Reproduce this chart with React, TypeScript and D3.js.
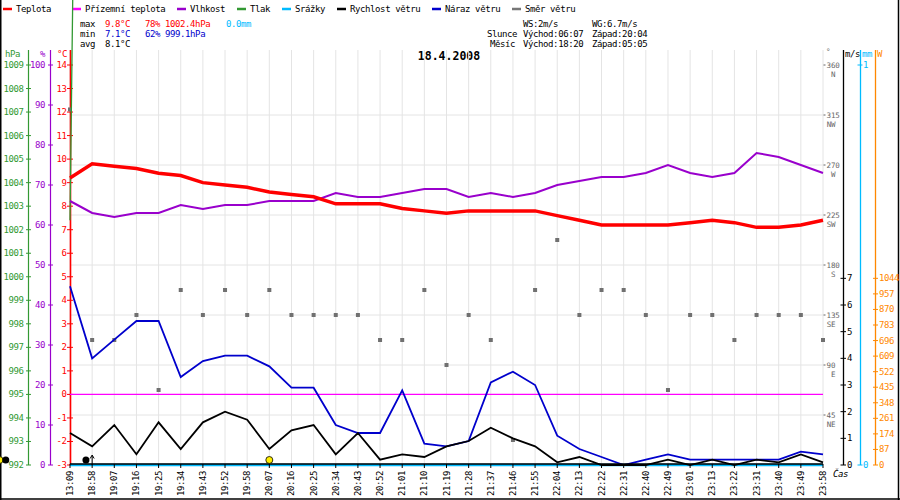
import React from "react";
import * as d3 from "d3";

const times = ["13:09","18:58","19:07","19:16","19:25","19:34","19:43","19:52","19:58","20:07","20:16","20:25","20:34","20:43","20:52","21:01","21:10","21:19","21:28","21:37","21:46","21:55","22:04","22:13","22:22","22:31","22:40","22:49","23:01","23:13","23:22","23:31","23:40","23:49","23:58"];
const temperature = [9.2,9.8,9.7,9.6,9.4,9.3,9.0,8.9,8.8,8.6,8.5,8.4,8.1,8.1,8.1,7.9,7.8,7.7,7.8,7.8,7.8,7.8,7.6,7.4,7.2,7.2,7.2,7.2,7.3,7.4,7.3,7.1,7.1,7.2,7.4];
const feelsLike = [0,0,0,0,0,0,0,0,0,0,0,0,0,0,0,0,0,0,0,0,0,0,0,0,0,0,0,0,0,0,0,0,0,0,0];
const humidity = [66,63,62,63,63,65,64,65,65,66,66,66,68,67,67,68,69,69,67,68,67,68,70,71,72,72,73,75,73,72,73,78,77,75,73];
const pressure = [1002.4,1079,1079,1079,1079,1079,1079,1079,1079,1079,1079,1079,1079,1079,1079,1079,1079,1079,1079,1079,1079,1079,1079,1079,1079,1079,1079,1079,1079,1079,1079,1079,1079,1079,1079];
const precipitation = [0,0,0,0,0,0,0,0,0,0,0,0,0,0,0,0,0,0,0,0,0,0,0,0,0,0,0,0,0,0,0,0,0,0,0];
const windSpeed = [1.2,0.7,1.5,0.4,1.6,0.6,1.6,2.0,1.7,0.6,1.3,1.5,0.4,1.2,0.2,0.4,0.3,0.7,0.9,1.4,1.0,0.7,0.1,0.3,0,0,0,0.2,0,0.2,0,0.2,0.1,0.4,0.1];
const windGust = [6.7,4.0,4.7,5.4,5.4,3.3,3.9,4.1,4.1,3.7,2.9,2.9,1.5,1.2,1.2,2.8,0.8,0.7,0.9,3.1,3.5,3.0,1.1,0.6,0.3,0,0.2,0.4,0.2,0.2,0.2,0.2,0.2,0.5,0.4];
const windDir = [320,112.5,112.5,135,67.5,157.5,135,157.5,135,157.5,135,135,135,135,112.5,112.5,157.5,90,135,112.5,22.5,157.5,202.5,135,157.5,157.5,135,67.5,135,135,112.5,135,135,135,112.5];

const hpaTicks = [992,993,994,995,996,997,998,999,1000,1001,1002,1003,1004,1005,1006,1007,1008,1009];
const humTicks = [0,10,20,30,40,50,60,70,80,90,100];
const tempTicks = [-3,-2,-1,0,1,2,3,4,5,6,7,8,9,10,11,12,13,14];
const dirTicks = [45,90,135,180,225,270,315,360];
const dirNames = ["NE","E","SE","S","SW","W","NW","N"];
const msTicks = [0,1,2,3,4,5,6,7];
const mmTicks = [0,1];
const wTicks = [0,87,174,261,348,435,522,609,696,783,870,957,1044];

const legend = [
  { name: "Teplota", color: "#ff0000", x: 1 },
  { name: "Přízemní teplota", color: "#ff00ff", x: 70 },
  { name: "Vlhkost", color: "#9900cc", x: 175 },
  { name: "Tlak", color: "#339933", x: 235 },
  { name: "Srážky", color: "#00bbff", x: 280 },
  { name: "Rychlost větru", color: "#000000", x: 335 },
  { name: "Náraz větru", color: "#0000cc", x: 430 },
  { name: "Směr větru", color: "#777777", x: 510 },
];

// astronomical markers, positioned by fractional sample index
const markers = [
  { idx: -3.18, type: "sun" },
  { idx: -2.9, type: "moon" },
  { idx: 0.72, type: "moon" },
  { idx: 9, type: "sun" },
];

const C = {
  red: "#ff0000", mag: "#ff00ff", pur: "#9900cc", grn: "#339933", cyan: "#00bbff",
  blk: "#000000", blue: "#0000cc", gray: "#666666", org: "#ff8800", grid: "#e4e4e4",
};

const FONT = "'DejaVu Sans Mono', monospace";

export default function App() {
  const x0 = 70, x1 = 823, yTop = 65, yBot = 465;
  const xi = d3.scaleLinear().domain([0, times.length - 1]).range([x0, x1]);
  const yT = d3.scaleLinear().domain([-3, 14]).range([yBot, yTop]);
  const yH = d3.scaleLinear().domain([0, 100]).range([yBot, yTop]);
  const yP = d3.scaleLinear().domain([992, 1009]).range([yBot, yTop]);
  const yD = d3.scaleLinear().domain([0, 360]).range([yBot, yTop]);
  const yS = d3.scaleLinear().domain([0, 15]).range([yBot, yTop]);
  const yM = d3.scaleLinear().domain([0, 1]).range([yBot, yTop]);
  const yWt = d3.scaleLinear().domain([0, (1044 * 15) / 7]).range([yBot, yTop]);

  const mk = (scale: d3.ScaleLinear<number, number>) =>
    d3.line<number>().x((_, i) => xi(i)).y((d) => scale(d));

  const txt = (props: any, s: string) => (
    <text fontFamily={FONT} fontSize={9} letterSpacing={-0.4} {...props}>{s}</text>
  );
  const small = (props: any, s: string) => (
    <text fontFamily={FONT} fontSize={7.5} letterSpacing={-0.1} {...props}>{s}</text>
  );

  return (
    <svg width={900} height={500} style={{ position: "absolute", left: 0, top: 0, background: "#fff" }}>
      <rect x={0} y={0} width={900} height={500} fill="#fff" />
      {/* frame */}
      <line x1={0.75} y1={0} x2={0.75} y2={500} stroke="#000" strokeWidth={1.5} />
      <line x1={898.5} y1={0} x2={898.5} y2={500} stroke="#000" strokeWidth={1.5} />
      <line x1={0} y1={499} x2={900} y2={499} stroke="#000" strokeWidth={1.5} />

      {/* legend */}
      {legend.map((l) => (
        <g key={l.name}>
          <line x1={l.x + 2} x2={l.x + 11} y1={9} y2={9} stroke={l.color} strokeWidth={2.5} />
          {txt({ x: l.x + 15, y: 12, fill: "#000" }, l.name)}
        </g>
      ))}

      {/* stats */}
      {txt({ x: 80, y: 27 }, "max")}
      {txt({ x: 105, y: 27, fill: C.red }, "9.8°C")}
      {txt({ x: 145, y: 27, fill: C.red }, "78%")}
      {txt({ x: 165, y: 27, fill: C.red }, "1002.4hPa")}
      {txt({ x: 226, y: 27, fill: C.cyan }, "0.0mm")}
      {txt({ x: 80, y: 37 }, "min")}
      {txt({ x: 105, y: 37, fill: C.blue }, "7.1°C")}
      {txt({ x: 145, y: 37, fill: C.blue }, "62%")}
      {txt({ x: 165, y: 37, fill: C.blue }, "999.1hPa")}
      {txt({ x: 80, y: 47 }, "avg")}
      {txt({ x: 105, y: 47 }, "8.1°C")}

      {txt({ x: 523, y: 27 }, "WS:2m/s")}
      {txt({ x: 592, y: 27 }, "WG:6.7m/s")}
      {txt({ x: 487, y: 37 }, "Slunce")}
      {txt({ x: 523, y: 37 }, "Východ:06:07")}
      {txt({ x: 592, y: 37 }, "Západ:20:04")}
      {txt({ x: 490, y: 47 }, "Měsíc")}
      {txt({ x: 523, y: 47 }, "Východ:18:20")}
      {txt({ x: 592, y: 47 }, "Západ:05:05")}

      <text x={449} y={60} textAnchor="middle" fontFamily={FONT} fontWeight="bold" fontSize={11.5}>18.4.2008</text>

      {/* grid */}
      {times.map((t, i) => (
        <line key={"vg" + t} x1={xi(i)} x2={xi(i)} y1={50} y2={yBot} stroke={C.grid} strokeWidth={1} />
      ))}
      {dirTicks.slice(0, 7).map((d) => (
        <line key={"hg" + d} x1={x0} x2={x1} y1={yD(d)} y2={yD(d)} stroke={C.grid} strokeWidth={1} />
      ))}

      {/* left axes */}
      {txt({ x: 5, y: 57, fill: C.grn }, "hPa")}
      {txt({ x: 40, y: 57, fill: C.pur }, "%")}
      {txt({ x: 57, y: 57, fill: C.red }, "°C")}
      <line x1={28.5} x2={28.5} y1={50} y2={yBot} stroke={C.grn} strokeWidth={1.2} />
      {hpaTicks.map((v) => (
        <g key={"p" + v}>
          <line x1={26} x2={31} y1={yP(v)} y2={yP(v)} stroke={C.grn} />
          {txt({ x: 23.5, y: yP(v) + 3, fill: C.grn, textAnchor: "end" }, String(v))}
        </g>
      ))}
      <line x1={50.5} x2={50.5} y1={50} y2={yBot} stroke={C.pur} strokeWidth={1.2} />
      {humTicks.map((v) => (
        <g key={"h" + v}>
          <line x1={48} x2={53} y1={yH(v)} y2={yH(v)} stroke={C.pur} />
          {txt({ x: 45, y: yH(v) + 3, fill: C.pur, textAnchor: "end" }, String(v))}
        </g>
      ))}
      <line x1={70.5} x2={70.5} y1={50} y2={yBot} stroke={C.red} strokeWidth={1.6} />
      {tempTicks.map((v) => (
        <g key={"t" + v}>
          <line x1={67} x2={73} y1={yT(v)} y2={yT(v)} stroke={C.red} />
          {txt({ x: 66.5, y: yT(v) + 3, fill: C.red, textAnchor: "end" }, String(v))}
        </g>
      ))}

      {/* right axes */}
      {small({ x: 826, y: 54, fill: C.gray }, "°")}
      {dirTicks.map((d, k) => (
        <g key={"d" + d}>
          <line x1={823.5} x2={825.5} y1={yD(d)} y2={yD(d)} stroke={C.gray} />
          {small({ x: 826.5, y: yD(d) + 2.6, fill: C.gray }, String(d))}
          {small({ x: 835.5, y: yD(d) + 11.6, fill: C.gray, textAnchor: "end" }, dirNames[k])}
        </g>
      ))}
      {txt({ x: 845, y: 57, fill: "#000" }, "m/s")}
      {txt({ x: 862, y: 57, fill: C.cyan }, "mm")}
      {txt({ x: 877, y: 57, fill: C.org }, "W")}
      <line x1={843.5} x2={843.5} y1={50} y2={yBot} stroke="#000" strokeWidth={1.3} />
      {msTicks.map((v) => (
        <g key={"s" + v}>
          <line x1={840.5} x2={846} y1={yS(v)} y2={yS(v)} stroke="#000" />
          {txt({ x: 847, y: yS(v) + 3, fill: "#000" }, String(v))}
        </g>
      ))}
      <line x1={860.5} x2={860.5} y1={50} y2={yBot} stroke={C.cyan} strokeWidth={1.3} />
      {mmTicks.map((v) => (
        <g key={"m" + v}>
          <line x1={857.5} x2={862.5} y1={yM(v)} y2={yM(v)} stroke={C.cyan} />
          {txt({ x: 863, y: yM(v) + 3, fill: C.cyan }, String(v))}
        </g>
      ))}
      <line x1={875.5} x2={875.5} y1={50} y2={yBot} stroke={C.org} strokeWidth={1.3} />
      {wTicks.map((v) => (
        <g key={"w" + v}>
          <line x1={873} x2={878} y1={yWt(v)} y2={yWt(v)} stroke={C.org} />
          {txt({ x: 879, y: yWt(v) + 3, fill: C.org }, String(v))}
        </g>
      ))}

      {/* wind direction squares */}
      {windDir.map((d, i) => (
        <rect key={"wd" + i} x={xi(i) - 2} y={yD(d) - 2} width={4} height={4} fill="#707070" />
      ))}

      {/* series */}
      <path d={mk(yM)(precipitation) || ""} fill="none" stroke={C.cyan} strokeWidth={2.5} />
      <path d={mk(yT)(feelsLike) || ""} fill="none" stroke={C.mag} strokeWidth={1.3} />
      <path d={mk(yP)(pressure) || ""} fill="none" stroke={C.grn} strokeWidth={1.3} />
      <path d={mk(yH)(humidity) || ""} fill="none" stroke={C.pur} strokeWidth={2} />
      <path d={mk(yT)(temperature) || ""} fill="none" stroke={C.red} strokeWidth={3.5} />
      <path d={mk(yS)(windGust) || ""} fill="none" stroke={C.blue} strokeWidth={1.8} />
      <path d={mk(yS)(windSpeed) || ""} fill="none" stroke="#000" strokeWidth={1.8} />

      {/* x axis */}
      <line x1={x0} x2={x1} y1={464} y2={464} stroke="#000" strokeWidth={1.5} />
      {times.map((t, i) => (
        <g key={"xt" + t}>
          <line x1={xi(i)} x2={xi(i)} y1={464} y2={468} stroke="#000" />
          <text transform={`translate(${xi(i)},471) rotate(-90)`} textAnchor="end" dominantBaseline="central"
            fontFamily={FONT} fontSize={9} letterSpacing={-0.4}>{t}</text>
        </g>
      ))}
      {txt({ x: 833, y: 477, fontStyle: "italic" }, "Čas")}

      {/* markers */}
      {markers.map((m, k) =>
        m.type === "sun" ? (
          <circle key={"mk" + k} cx={xi(m.idx)} cy={460} r={3.5} fill="#ffee00" stroke="#000" strokeWidth={0.8} />
        ) : (
          <circle key={"mk" + k} cx={xi(m.idx)} cy={460} r={3.5} fill="#000" />
        )
      )}
      <line x1={xi(1)} x2={xi(1)} y1={456} y2={465} stroke="#000" strokeWidth={1} />
      <path d={`M${xi(1) - 2},${458.5}L${xi(1)},${455}L${xi(1) + 2},${458.5}`} fill="none" stroke="#000" strokeWidth={1} />
    </svg>
  );
}
